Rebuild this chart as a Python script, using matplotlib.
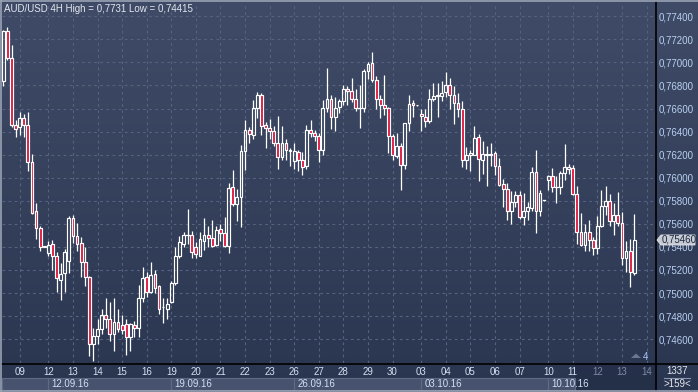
import matplotlib
matplotlib.use("Agg")
import matplotlib.pyplot as plt
import numpy as np
from matplotlib.colors import LinearSegmentedColormap
from matplotlib.patches import Rectangle, Polygon
from matplotlib.lines import Line2D
import matplotlib.transforms as mtransforms
from matplotlib.ticker import FuncFormatter

plt.rcParams['font.family'] = ['Liberation Sans', 'DejaVu Sans']

# AUD/USD 4H candles
opens = [0.76835, 0.77276, 0.77038, 0.76455, 0.76438, 0.76517, 0.76455, 0.76137, 0.75714, 0.75564,
         0.75397, 0.75344, 0.75423, 0.75317, 0.75114, 0.75176, 0.75282, 0.75652, 0.75494, 0.75432,
         0.75273, 0.75141, 0.74557, 0.74627, 0.74689, 0.74813, 0.74778, 0.74645, 0.74751, 0.74725,
         0.74733, 0.74618, 0.74725, 0.74698, 0.74955, 0.75141, 0.75007, 0.75167, 0.75061, 0.74875,
         0.74866, 0.74919, 0.75088, 0.75317, 0.75423, 0.75502, 0.75502, 0.75397, 0.75317, 0.75450,
         0.75502, 0.75476, 0.75414, 0.75555, 0.75520, 0.75406, 0.75917, 0.75775, 0.75829, 0.76235,
         0.76411, 0.76367, 0.76605, 0.76720, 0.76455, 0.76429, 0.76402, 0.76305, 0.76182, 0.76305,
         0.76235, 0.76146, 0.76226, 0.76155, 0.76102, 0.76411, 0.76385, 0.76358, 0.76243, 0.76605,
         0.76685, 0.76526, 0.76614, 0.76667, 0.76773, 0.76755, 0.76685, 0.76605, 0.76605, 0.76923,
         0.76994, 0.76844, 0.76685, 0.76632, 0.76605, 0.76358, 0.76190, 0.76279, 0.76111, 0.76473,
         0.76650, 0.76632, 0.76552, 0.76526, 0.76491, 0.76685, 0.76711, 0.76711, 0.76747, 0.76808,
         0.76720, 0.76650, 0.76597, 0.76155, 0.76199, 0.76199, 0.76349, 0.76155, 0.76199, 0.76199,
         0.76217, 0.76102, 0.75943, 0.75899, 0.75714, 0.75793, 0.75846, 0.75661, 0.75714, 0.75740,
         0.76049, 0.75714, 0.75802, 0.75979, 0.76014, 0.75917, 0.75917, 0.76040, 0.76076, 0.76084,
         0.75855, 0.75529, 0.75414, 0.75529, 0.75458, 0.75388, 0.75581, 0.75758, 0.75802, 0.75625,
         0.75678, 0.75608, 0.75300, 0.75361, 0.75176]
highs = [0.77285, 0.77310, 0.77153, 0.76499, 0.76570, 0.76552, 0.76570, 0.76208, 0.75784, 0.75581,
         0.75406, 0.75450, 0.75458, 0.75353, 0.75264, 0.75379, 0.75670, 0.75678, 0.75608, 0.75485,
         0.75397, 0.75149, 0.74698, 0.74778, 0.74866, 0.74955, 0.74919, 0.74955, 0.74866, 0.74813,
         0.74778, 0.74742, 0.74760, 0.75070, 0.75228, 0.75185, 0.75273, 0.75202, 0.75070, 0.74955,
         0.74955, 0.75105, 0.75397, 0.75494, 0.75529, 0.75732, 0.75537, 0.75441, 0.75529, 0.75652,
         0.75581, 0.75634, 0.75581, 0.75599, 0.75661, 0.75952, 0.76067, 0.75899, 0.76287, 0.76499,
         0.76438, 0.76676, 0.76747, 0.76738, 0.76482, 0.76508, 0.76446, 0.76535, 0.76446, 0.76332,
         0.76261, 0.76305, 0.76243, 0.76226, 0.76455, 0.76499, 0.76411, 0.76385, 0.76676, 0.76950,
         0.76720, 0.76702, 0.76685, 0.76808, 0.76791, 0.76861, 0.76773, 0.76808, 0.76941, 0.77003,
         0.77091, 0.76879, 0.76720, 0.76888, 0.76614, 0.76376, 0.76385, 0.76305, 0.76473, 0.76720,
         0.76676, 0.76632, 0.76597, 0.76597, 0.76773, 0.76817, 0.76817, 0.76835, 0.76914, 0.76861,
         0.76791, 0.76738, 0.76667, 0.76270, 0.76243, 0.76446, 0.76376, 0.76314, 0.76279, 0.76305,
         0.76235, 0.76173, 0.75987, 0.75952, 0.75882, 0.75882, 0.75882, 0.75864, 0.75793, 0.76093,
         0.76243, 0.75890, 0.75802, 0.76023, 0.76084, 0.76014, 0.76058, 0.76296, 0.76120, 0.76111,
         0.75926, 0.75696, 0.75599, 0.75634, 0.75485, 0.75670, 0.75890, 0.75926, 0.75855, 0.75784,
         0.75873, 0.75705, 0.75450, 0.75467, 0.75687]
lows = [0.76791, 0.77020, 0.76438, 0.76349, 0.76367, 0.76349, 0.76058, 0.75687, 0.75467, 0.75361,
        0.75397, 0.75317, 0.75202, 0.75007, 0.74937, 0.75007, 0.75176, 0.75432, 0.75361, 0.75141,
        0.75061, 0.74451, 0.74415, 0.74557, 0.74645, 0.74698, 0.74583, 0.74495, 0.74663, 0.74645,
        0.74460, 0.74495, 0.74618, 0.74618, 0.74919, 0.74963, 0.74999, 0.74999, 0.74822, 0.74742,
        0.74778, 0.74910, 0.75070, 0.75308, 0.75397, 0.75423, 0.75308, 0.75308, 0.75317, 0.75370,
        0.75397, 0.75397, 0.75406, 0.75450, 0.75397, 0.75344, 0.75758, 0.75625, 0.75572, 0.76067,
        0.76305, 0.76332, 0.76517, 0.76367, 0.76261, 0.76332, 0.76279, 0.76076, 0.76155, 0.76155,
        0.76102, 0.76076, 0.76058, 0.76023, 0.76076, 0.76349, 0.76314, 0.76137, 0.76199, 0.76570,
        0.76420, 0.76402, 0.76561, 0.76632, 0.76632, 0.76658, 0.76579, 0.76429, 0.76570, 0.76853,
        0.76826, 0.76597, 0.76517, 0.76544, 0.76217, 0.76155, 0.76173, 0.75890, 0.76076, 0.76402,
        0.76526, 0.76623, 0.76402, 0.76438, 0.76473, 0.76667, 0.76526, 0.76667, 0.76702, 0.76597,
        0.76464, 0.76526, 0.76093, 0.76076, 0.76058, 0.76199, 0.75970, 0.76032, 0.75926, 0.76102,
        0.76023, 0.75926, 0.75749, 0.75634, 0.75599, 0.75749, 0.75643, 0.75590, 0.75634, 0.75714,
        0.75520, 0.75670, 0.75802, 0.75890, 0.75873, 0.75784, 0.75855, 0.75979, 0.76032, 0.75846,
        0.75423, 0.75406, 0.75361, 0.75361, 0.75326, 0.75335, 0.75572, 0.75678, 0.75581, 0.75502,
        0.75581, 0.75247, 0.75185, 0.75052, 0.75158]
closes = [0.77268, 0.77038, 0.76455, 0.76420, 0.76517, 0.76455, 0.76137, 0.75696, 0.75564, 0.75397,
          0.75406, 0.75414, 0.75317, 0.75132, 0.75167, 0.75353, 0.75652, 0.75494, 0.75423, 0.75273,
          0.75141, 0.74557, 0.74627, 0.74689, 0.74813, 0.74778, 0.74645, 0.74751, 0.74689, 0.74680,
          0.74618, 0.74733, 0.74698, 0.74955, 0.75132, 0.75007, 0.75158, 0.75043, 0.74866, 0.74880,
          0.74901, 0.75088, 0.75317, 0.75441, 0.75502, 0.75505, 0.75353, 0.75335, 0.75467, 0.75502,
          0.75476, 0.75406, 0.75546, 0.75520, 0.75406, 0.75908, 0.75775, 0.75829, 0.76235, 0.76411,
          0.76376, 0.76605, 0.76720, 0.76446, 0.76429, 0.76402, 0.76305, 0.76182, 0.76305, 0.76243,
          0.76243, 0.76235, 0.76155, 0.76093, 0.76411, 0.76385, 0.76358, 0.76243, 0.76605, 0.76685,
          0.76526, 0.76605, 0.76667, 0.76773, 0.76755, 0.76685, 0.76605, 0.76608, 0.76923, 0.76985,
          0.76844, 0.76685, 0.76632, 0.76605, 0.76358, 0.76199, 0.76279, 0.76111, 0.76473, 0.76641,
          0.76632, 0.76628, 0.76535, 0.76491, 0.76685, 0.76711, 0.76715, 0.76738, 0.76808, 0.76720,
          0.76650, 0.76597, 0.76155, 0.76199, 0.76217, 0.76340, 0.76164, 0.76208, 0.76208, 0.76203,
          0.76102, 0.75935, 0.75899, 0.75714, 0.75793, 0.75846, 0.75661, 0.75714, 0.75749, 0.76049,
          0.75714, 0.75864, 0.75805, 0.76014, 0.75917, 0.75920, 0.76040, 0.76093, 0.76093, 0.75855,
          0.75529, 0.75414, 0.75529, 0.75458, 0.75388, 0.75581, 0.75758, 0.75802, 0.75625, 0.75678,
          0.75608, 0.75300, 0.75361, 0.75185, 0.75460]

day_labels = ['09', '12', '13', '14', '15', '16', '19', '20', '21', '22', '23', '26', '27', '28',
              '29', '30', '03', '04', '05', '06', '07', '10', '11', '12', '13', '14']
day_start = [4, 11, 17, 23, 29, 35, 41, 47, 53, 59, 65, 71, 77, 83, 89, 95, 102, 108, 114, 120,
             126, 133, 139, 145, 151, 157]
week_labels = ['12.09.16', '19.09.16', '26.09.16', '03.10.16', '10.10.16']
week_start = [11, 41, 71, 102, 133]
price_levels = [0.746, 0.748, 0.750, 0.752, 0.754, 0.756, 0.758, 0.760, 0.762, 0.764,
                0.766, 0.768, 0.770, 0.772, 0.774]
title = "AUD/USD 4H High = 0,7731 Low = 0,74415"
last_price = closes[-1]

W, H = 698, 392
def fx(px):
    return px / W
def fy(py):
    return 1 - py / H

fig = plt.figure(figsize=(W / 100, H / 100), dpi=100)

# gradient background for the whole terminal window
bg = fig.add_axes([0, 0, 1, 1], zorder=0)
cmap = LinearSegmentedColormap.from_list('bg', ['#2a3550', '#404c67'])
bg.imshow(np.linspace(0, 1, 256).reshape(-1, 1), aspect='auto', cmap=cmap,
          extent=[0, 1, 0, 1], origin='lower')
bg.set_xlim(0, 1)
bg.set_ylim(0, 1)
bg.axis('off')

ax = fig.add_axes([fx(2), fy(363), fx(655) - fx(2), fy(3) - fy(363)], zorder=2)
ax.set_facecolor('none')
for s in ax.spines.values():
    s.set_visible(False)

red = '#dc143c'
bw = 0.68
for i, (o, h, l, c) in enumerate(zip(opens, highs, lows, closes)):
    top, bot = max(o, c), min(o, c)
    ax.plot([i, i], [bot, l], color='white', lw=0.9, solid_capstyle='butt', zorder=3)
    ax.plot([i, i], [top, h], color='white', lw=0.9, solid_capstyle='butt', zorder=3)
    if abs(o - c) < 0.00004:
        ax.plot([i - bw / 2, i + bw / 2], [c, c], color='white', lw=0.9, zorder=4)
    else:
        ax.add_patch(Rectangle((i - bw / 2, bot), bw, top - bot,
                               facecolor=red if c < o else 'none',
                               edgecolor='white', lw=0.85, zorder=4))

ax.set_xlim(-0.32, 159.07)
ax.set_ylim(0.743935, 0.775148)
ax.set_yticks(price_levels)
ax.set_xticks(day_start)
ax.set_xticklabels(day_labels)
ax.yaxis.tick_right()
ax.yaxis.set_major_formatter(FuncFormatter(lambda v, p: f"{v:.5f}".replace('.', ',')))
ax.tick_params(axis='y', length=0, pad=2.5, labelsize=7, labelcolor='#b8d0f0')
ax.tick_params(axis='x', length=0, pad=3, labelsize=7, labelcolor='#d4e0f2')
for lab in ax.get_xticklabels()[-3:]:
    lab.set_color('#7e8ba3')
ax.grid(True, color='#56627e', lw=0.8, ls=(0, (2.5, 3)))
ax.set_axisbelow(True)

# week band under the day labels
trans = mtransforms.blended_transform_factory(ax.transData, ax.transAxes)
y_top = (363 - 377.5) / 360
y_bot = (363 - 390) / 360
edges = [-0.32] + week_start + [139.5]
for k in range(len(edges) - 1):
    ax.add_patch(Rectangle((edges[k], y_bot), edges[k + 1] - edges[k], y_top - y_bot,
                           transform=trans, facecolor='#46526e', edgecolor='#5e6a86',
                           lw=0.8, clip_on=False, zorder=1))
for lab, pos in zip(week_labels, week_start):
    ax.text(pos + 0.75, (y_top + y_bot) / 2, lab, transform=trans, fontsize=7,
            color='#d4e0f2', va='center', ha='left', clip_on=False, zorder=2)

# shaded area at the right end of the time scale
fig.patches.append(Rectangle((fx(575), fy(391)), fx(655) - fx(575), fy(363) - fy(391),
                             transform=fig.transFigure, facecolor='#1e2840', alpha=0.45,
                             zorder=1.5))

# separators and frame
fig.add_artist(Line2D([fx(0), fx(698)], [fy(363.5), fy(363.5)], color='black', lw=1.2, zorder=5))
fig.add_artist(Line2D([fx(655.5), fx(655.5)], [fy(2), fy(392)], color='black', lw=1.2, zorder=5))
fig.add_artist(Line2D([fx(0), fx(698)], [fy(1), fy(1)], color='#9aa3b4', lw=1.2, zorder=5))
fig.add_artist(Line2D([fx(1), fx(1)], [fy(0), fy(392)], color='#9aa3b4', lw=1.2, zorder=5))
fig.add_artist(Line2D([fx(0), fx(698)], [fy(391), fy(391)], color='#9aa3b4', lw=1.2, zorder=5))

fig.text(fx(4), fy(9), title, fontsize=7, color='#e2e6ee', va='center', ha='left', zorder=6)

# current price tag
py = ax.transData.transform((0, last_price))[1]
pyp = H - py
tag = Polygon([(fx(657), fy(pyp)), (fx(661), fy(pyp - 5)), (fx(695), fy(pyp - 5)),
               (fx(695), fy(pyp + 5)), (fx(661), fy(pyp + 5))], closed=True,
              transform=fig.transFigure, facecolor='#c6cad2', edgecolor='#e6e8ec',
              lw=0.6, zorder=6)
fig.patches.append(tag)
fig.text(fx(661.5), fy(pyp), f"{last_price:.5f}".replace('.', ','), fontsize=7,
         color='#1c2840', va='center', ha='left', zorder=7)

# bottom right info box
fig.text(fx(677), fy(370.5), '1337', fontsize=7, color='#e2e6ee', ha='center', va='center', zorder=6)
fig.add_artist(Line2D([fx(664), fx(690)], [fy(377.5), fy(377.5)], color='#8c96aa', lw=0.8, zorder=6))
fig.text(fx(677), fy(384), '>159<', fontsize=7, color='#e2e6ee', ha='center', va='center', zorder=6)

# bar-shift marker
fig.patches.append(Polygon([(fx(631), fy(358)), (fx(636), fy(353.5)), (fx(641), fy(358))],
                           closed=True, transform=fig.transFigure, facecolor='#6a7690',
                           edgecolor='none', zorder=6))
fig.text(fx(643), fy(356.5), '4', fontsize=7, color='#a8c8ff', ha='left', va='center', zorder=6)

fig.savefig('out.png', dpi=100)
